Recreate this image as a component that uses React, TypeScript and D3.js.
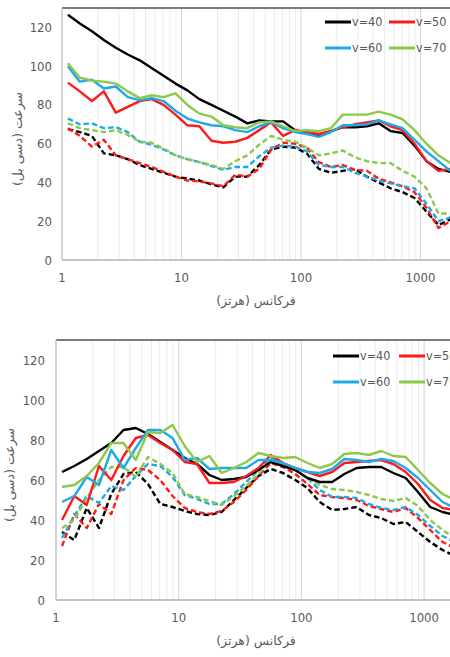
import React from "react";
import * as d3 from "d3";

const freqs = [1.12, 1.41, 1.78, 2.24, 2.82, 3.55, 4.47, 5.62, 7.08, 8.91, 11.2, 14.1, 17.8, 22.4, 28.2, 35.5, 44.7, 56.2, 70.8, 89.1, 112, 141, 178, 224, 282, 355, 447, 562, 708, 891, 1122, 1413, 1778];

// top chart
const t40s = [126.5,122,118,113.5,109.5,106,103,99,95,91,87.5,83,80,77,74,70.5,72,71.5,71.5,67,65.5,64.5,66.5,68.5,68.5,69,70.5,66.5,65.5,59,51,47,45.5];
const t50s = [91.5,87,82,87,76,79,82,83,80,75,69.5,69,61.5,60.5,61,63,67,71,64,67,66,65,66.5,68.5,70,71,72,69,67,60,51,46,47];
const t60s = [100,92,93,88.5,89.5,84,82.5,83.5,82,77,73,71,69.5,69,67,66,69,71,68,66,65,63.5,66,69.5,69.5,70,72,70,68,62,56,51,46];
const t70s = [101.5,94,92.5,92,91,87,83.5,85,84,86,80,75.5,74,69.5,68.5,68,71,71.5,69,66.5,67,66.5,68,75,75,75,76.5,75,72.5,67,60,54,50];
const t40d = [67.5,66,64,55,54,52,49,47,45,43,42,41,39,37.5,43,43,49,57,58.5,58,55,47,45,46,47,43,40,37,35,32,25,18,21];
const t50d = [68,64,58.5,62,54,52,50,48,45.5,43,41,40.5,39.5,38,44,43,47,57,60.5,60,58,50.5,48,49,46.5,46,42,40,38,35,27,16.5,20];
const t60d = [73,70,70.5,68,68.5,66,61,59.5,57,54,52,50.5,48.5,46.5,48,48,53.5,58,59,58.5,56,49,48,48,45,43,41,39.5,38,37,29,20,22];
const t70d = [70.5,68,67,66,67,64.5,61,60.5,57.5,54,52,50.5,49,47,51,54,59.5,64,62,61,58,54,55,56.5,53,51,50,50,46,43,37,24,24];

// bottom chart
const b40s = [64,67,70.5,74.5,78.5,85,86,83,79,75,71,68,62.5,60,60.5,61.5,65,69,67,65,61,59,59,63,66,66.5,66.5,63.5,61,54,46.5,44,42.5];
const b50s = [40,52,47.5,67,60,72,81,82.5,78.5,75,69,68,58.5,58.5,59,62,66,72.5,68.5,66,64,62,64,68.5,69,69.5,70,68,64,58,50,46,45];
const b60s = [49,52,61.5,57.5,75,66,76,85,85,81,70,71,65.5,66,66,66,70,70,68.5,66,64,63.5,65.5,70.5,70,69,70.5,69.5,66,61,55,49,46];
const b70s = [56.5,57.5,62,68.5,78.5,78.5,70,84,83.5,87.5,77,69,72,63.5,66,69,73.5,72,71,71.5,68.5,66,68,73,73.5,72.5,74.5,72,71.5,65,58.5,53,50];
const b40d = [34,30,46,36,53,63,64,58,48,46.5,44.5,43,42.5,44,50,56,62,65.5,63.5,60,56,49,45,45.5,46.5,42.5,41,38,39,34,29,25,22];
const b50d = [27,43,36,48,43,60,66,65,60,52,46,44,43,44.5,49,55,62,68.5,66.5,63,58,52.5,51.5,51,50,47,45.5,44,46,41,35,29,26];
const b60d = [31,42,52,48.5,57,55,62,68,67,61.5,52.5,50.5,48,48,53,59,65,71,68.5,65,61,55,51.5,51.5,51,48,46,45,46.5,42.5,37,32,29];
const b70d = [36,40,51,60,66.5,66.5,61.5,71.5,68,63.5,53,51.5,49.5,47.5,52,57,63,70,68,65,61,57.5,55.5,55,54,52.5,50.5,49.5,51,47,40,35,31];

const yTicks = [0, 20, 40, 60, 80, 100, 120];
const xTicks = [1, 10, 100, 1000];
const legendLabels = ["v=40", "v=50", "v=60", "v=70"];
const colors = ["#000000", "#ff1a1a", "#1fa9e6", "#8cc84b"];
const yTitle = "سرعت (دسی بل)";
const xTitle = "فرکانس (هرتز)";

const FONT = "'Liberation Sans Narrow', 'DejaVu Sans Condensed', 'Liberation Sans', sans-serif";
const TXT = "#595959";

type PanelProps = {
  top: number; bottom: number; left: number; decade: number;
  solid: number[][]; dashed: number[][];
  legendX: number; legendY: number; legendGap: number; yTitleX: number; xTitleX: number;
  labelRight: number;
};

function Panel(p: PanelProps) {
  const x = d3.scaleLog().domain([1, 10000]).range([p.left, p.left + 4 * p.decade]);
  const y = d3.scaleLinear().domain([0, 130]).range([p.bottom, p.top]);
  const line = d3.line<number>().x((_, i) => x(freqs[i])).y((v) => y(v));
  const grid: number[] = [];
  for (let e = 0; e < 4; e++) for (let m = 2; m <= 10; m++) grid.push(m * Math.pow(10, e));
  const right = 470;
  return (
    <g>
      {grid.map((g, i) => {
        const major = Math.abs(Math.log10(g) - Math.round(Math.log10(g))) < 1e-9;
        return (
          <line key={"g" + i} x1={x(g)} x2={x(g)} y1={p.top} y2={p.bottom}
            stroke={major ? "#d4d4d4" : "#ececec"} strokeWidth={1} />
        );
      })}
      <line x1={p.left} x2={right} y1={p.top} y2={p.top} stroke="#505050" strokeWidth={1.6} />
      <line x1={p.left} x2={p.left} y1={p.top} y2={p.bottom} stroke="#c4c4c4" strokeWidth={1.5} />
      <line x1={p.left} x2={right} y1={p.bottom} y2={p.bottom} stroke="#c4c4c4" strokeWidth={2} />
      {yTicks.map((t) => (
        <text key={"y" + t} x={p.labelRight} y={y(t)} dy="0.35em" textAnchor="end"
          fontFamily={FONT} fontSize={13} fill={TXT}>{t}</text>
      ))}
      {xTicks.map((t) => (
        <text key={"x" + t} x={x(t)} y={p.bottom + 22} textAnchor="middle"
          fontFamily={FONT} fontSize={13} fill={TXT}>{t}</text>
      ))}
      <text x={p.xTitleX} y={p.bottom + 45} textAnchor="middle" fontFamily="'DejaVu Sans', sans-serif"
        fontSize={12.5} fill={TXT} direction="rtl">{xTitle}</text>
      <text transform={`translate(${p.yTitleX},${(p.top + p.bottom) / 2 + 5}) rotate(-90)`} textAnchor="middle"
        fontFamily="'DejaVu Sans', sans-serif" fontSize={12.5} fill={TXT} direction="rtl">{yTitle}</text>
      {p.dashed.map((s, i) => (
        <path key={"d" + i} d={line(s) || ""} fill="none" stroke={colors[i]} strokeWidth={2.4}
          strokeDasharray="5.5,3" strokeLinejoin="round" />
      ))}
      {p.solid.map((s, i) => (
        <path key={"s" + i} d={line(s) || ""} fill="none" stroke={colors[i]} strokeWidth={2.4}
          strokeLinejoin="round" />
      ))}
      {legendLabels.map((l, i) => {
        const lx = p.legendX + (i % 2) * p.legendGap;
        const ly = p.legendY + Math.floor(i / 2) * 26;
        return (
          <g key={"l" + i}>
            <line x1={lx} x2={lx + 26} y1={ly} y2={ly} stroke={colors[i]} strokeWidth={3} />
            <text x={lx + 27} y={ly} dy="0.35em" fontFamily={FONT} fontSize={12.5} fill={TXT}>{l}</text>
          </g>
        );
      })}
    </g>
  );
}

export default function App() {
  return (
    <svg width={450} height={657} style={{ position: "absolute", left: 0, top: 0, background: "#fff" }}>
      <rect width={450} height={657} fill="#fff" />
      <Panel top={8} bottom={260} left={62} decade={119.5}
        solid={[t40s, t50s, t60s, t70s]} dashed={[t40d, t50d, t60d, t70d]}
        legendX={325} legendY={22} legendGap={64} yTitleX={22} xTitleX={256} labelRight={52} />
      <Panel top={340} bottom={600} left={56} decade={122.7}
        solid={[b40s, b50s, b60s, b70s]} dashed={[b40d, b50d, b60d, b70d]}
        legendX={333} legendY={356} legendGap={66} yTitleX={14} xTitleX={256} labelRight={45} />
    </svg>
  );
}
